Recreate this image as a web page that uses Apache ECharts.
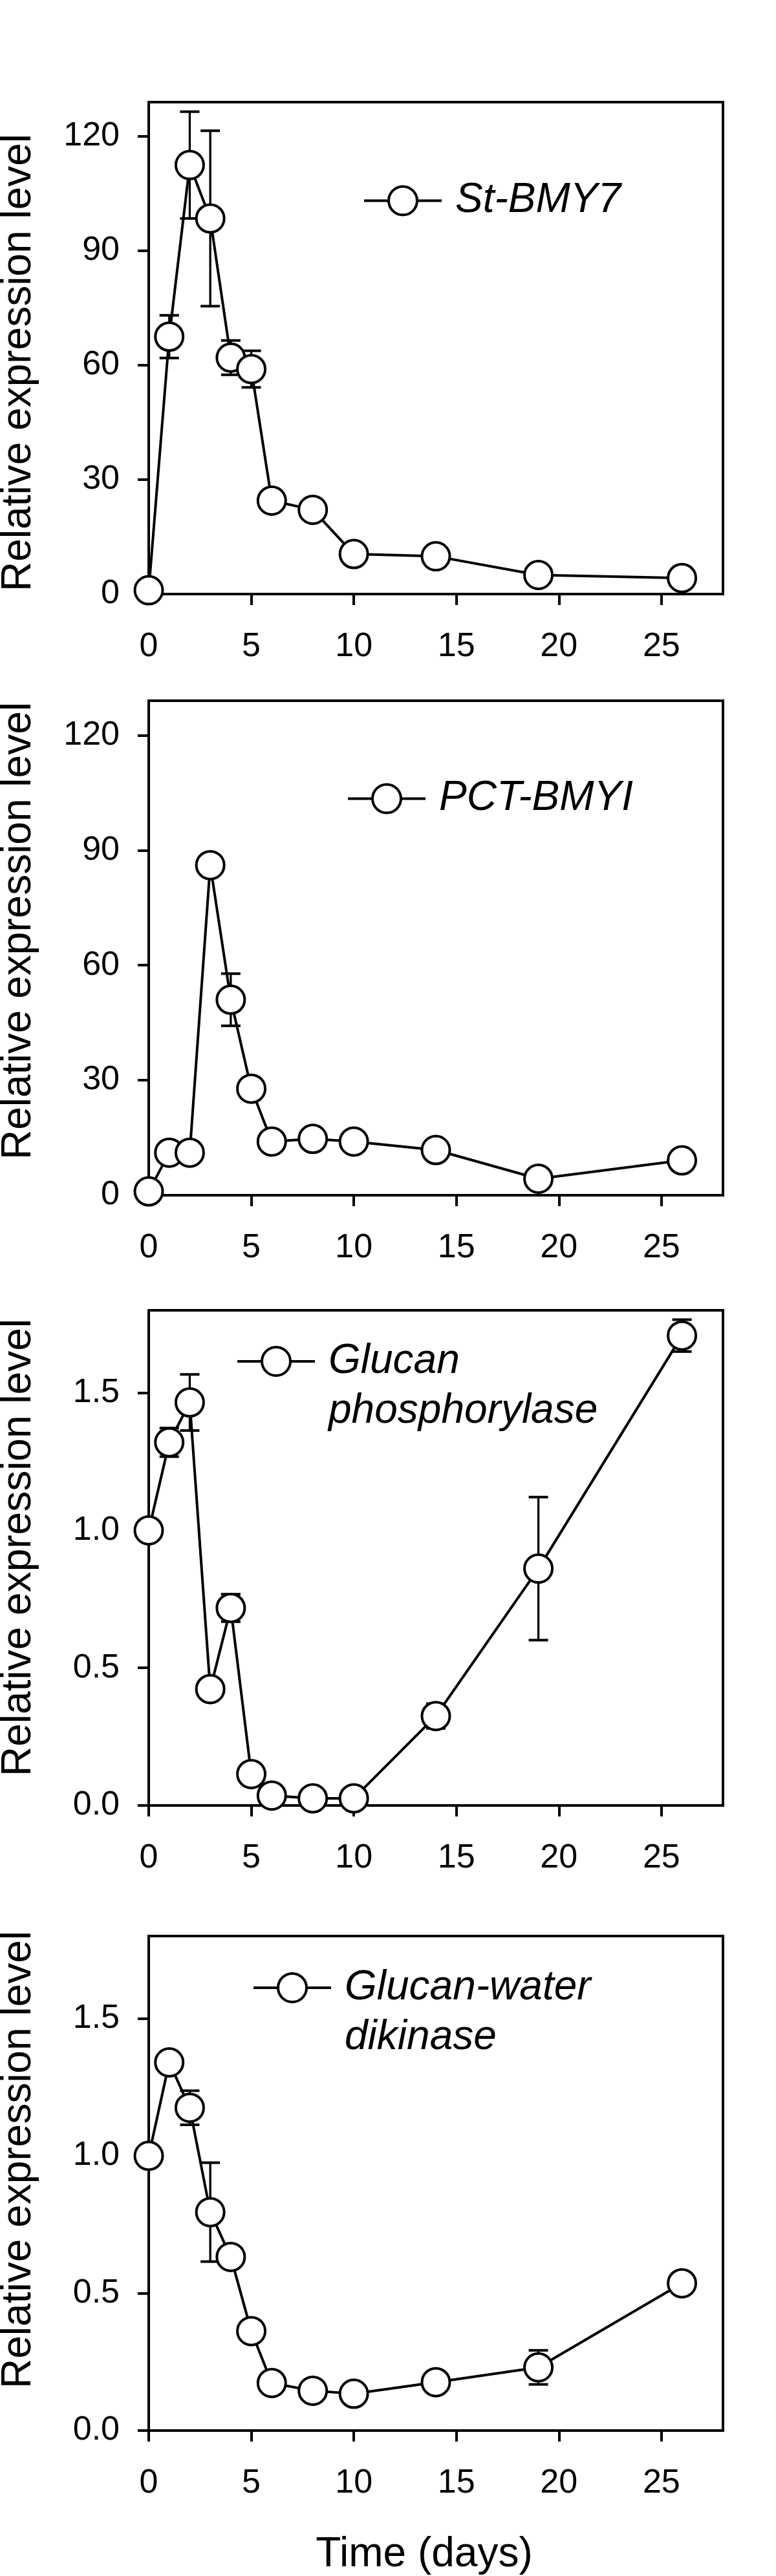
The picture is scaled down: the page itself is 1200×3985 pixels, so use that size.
<!DOCTYPE html>
<html><head><meta charset="utf-8">
<script src="https://cdn.jsdelivr.net/npm/echarts@6/dist/echarts.min.js"></script>
<style>html,body{margin:0;padding:0;background:#fff}#c{width:1200px;height:3985px}</style>
</head><body><div id="c"></div>
<script>
// ---- data ----
const days = [0, 1, 2, 3, 4, 5, 6, 8, 10, 14, 19, 26];
const xTicks = [0, 5, 10, 15, 20, 25];

const stBmy7 = [1, 67.5, 112.5, 98.5, 62, 59, 24.5, 22.1, 10.5, 9.9, 5.0, 4.2];
const stBmy7Err = [0, 5.6, 14, 23, 4.5, 4.8, 0, 0, 0, 0, 0, 0];

const pctBmy1 = [1, 11.1, 11.1, 86.1, 51, 27.8, 14.0, 14.7, 14.0, 11.8, 4.3, 9.1];
const pctBmy1Err = [0, 0, 0, 0, 6.8, 0, 0, 0, 0, 0, 0, 0];

const glucanPhos = [1.0, 1.32, 1.465, 0.423, 0.718, 0.114, 0.036, 0.026, 0.026, 0.325, 0.861, 1.708];
const glucanPhosErr = [0, 0.052, 0.102, 0, 0.05, 0, 0, 0, 0, 0.045, 0.26, 0.058];

const gwd = [1.0, 1.34, 1.175, 0.795, 0.632, 0.362, 0.173, 0.145, 0.134, 0.176, 0.23, 0.536];
const gwdErr = [0, 0, 0.062, 0.18, 0, 0, 0, 0, 0, 0, 0.062, 0];

const yTicksBig = [0, 30, 60, 90, 120];
const yTicksSmall = [0, 0.5, 1.0, 1.5];

const names = ['St-BMY7', 'PCT-BMYI', 'Glucan\nphosphorylase', 'Glucan-water\ndikinase'];
const yTitle = 'Relative expression level';
const xTitle = 'Time (days)';
// ---------------

const FONT = "'Liberation Sans', Arial, sans-serif";
const panels = [
  {vals: stBmy7, errs: stBmy7Err, max: 129, ticks: yTicksBig, dec: 0, grid: {top: 158, height: 761}, leg: {left: 561, cy: 306}, titleY: 561},
  {vals: pctBmy1, errs: pctBmy1Err, max: 129, ticks: yTicksBig, dec: 0, grid: {top: 1084, height: 765}, leg: {left: 536, cy: 1231}, titleY: 1440},
  {vals: glucanPhos, errs: glucanPhosErr, max: 1.8, ticks: yTicksSmall, dec: 1, grid: {top: 2027, height: 766}, leg: {left: 365, cy: 2106}, titleY: 2394},
  {vals: gwd, errs: gwdErr, max: 1.8, ticks: yTicksSmall, dec: 1, grid: {top: 2995, height: 771}, leg: {left: 390, cy: 3075}, titleY: 3341}
];

const grid = [], xAxis = [], yAxis = [], series = [], legend = [], graphic = [];
const LH = 77;
panels.forEach((p, i) => {
  grid.push({left: 230, width: 888, top: p.grid.top, height: p.grid.height, show: true,
    borderColor: '#000', borderWidth: 4, backgroundColor: 'transparent'});
  const axisCommon = {
    axisLine: {show: true, onZero: false, lineStyle: {color: '#000', width: 4}},
    axisTick: {show: true, inside: false, length: 17, lineStyle: {color: '#000', width: 4}},
    splitLine: {show: false}
  };
  xAxis.push(Object.assign({}, axisCommon, {
    gridIndex: i, type: 'value', min: 0, max: 28,
    axisTick: Object.assign({}, axisCommon.axisTick, {customValues: xTicks}),
    axisLabel: {customValues: xTicks, fontSize: 52, color: '#000', fontFamily: FONT, margin: 56},
    name: i === 3 ? xTitle : '',
    nameLocation: 'middle', nameGap: 160,
    nameTextStyle: {fontSize: 64, color: '#000', fontFamily: FONT, padding: [0, 36, 0, 0]}
  }));
  yAxis.push(Object.assign({}, axisCommon, {
    gridIndex: i, type: 'value', min: 0, max: p.max,
    axisTick: Object.assign({}, axisCommon.axisTick, {customValues: p.ticks}),
    axisLabel: {customValues: p.ticks, fontSize: 52, color: '#000', fontFamily: FONT, margin: 45,
      formatter: v => Number(v).toFixed(p.dec)}
  }));
  graphic.push({
    type: 'text', x: 29, y: p.titleY, rotation: Math.PI / 2, silent: true,
    style: {text: yTitle, font: '64px ' + FONT, fill: '#000', textAlign: 'center', textVerticalAlign: 'middle'}
  });
  series.push({
    type: 'custom', xAxisIndex: i, yAxisIndex: i, z: 1, silent: true,
    data: days.map((d, k) => [d, p.vals[k], p.errs[k]]),
    encode: {x: 0, y: 1},
    renderItem: function (params, api) {
      const x = api.value(0), v = api.value(1), e = api.value(2);
      if (!e) return null;
      const t = api.coord([x, v + e]), b = api.coord([x, v - e]);
      const hw = 15;
      return {type: 'group', children: [
        {type: 'line', shape: {x1: t[0], y1: t[1], x2: b[0], y2: b[1]}, style: {stroke: '#000', lineWidth: 3.3}},
        {type: 'line', shape: {x1: t[0] - hw, y1: t[1], x2: t[0] + hw, y2: t[1]}, style: {stroke: '#000', lineWidth: 4}},
        {type: 'line', shape: {x1: b[0] - hw, y1: b[1], x2: b[0] + hw, y2: b[1]}, style: {stroke: '#000', lineWidth: 4}}
      ]};
    }
  });
  series.push({
    type: 'line', name: names[i], xAxisIndex: i, yAxisIndex: i, z: 3,
    data: days.map((d, k) => [d, p.vals[k]]),
    symbol: 'circle', symbolSize: 43, showAllSymbol: true, clip: false,
    lineStyle: {color: '#000', width: 4},
    itemStyle: {color: '#fff', borderColor: '#000', borderWidth: 4, opacity: 1},
    emphasis: {disabled: true}
  });
  const twoLine = names[i].indexOf('\n') >= 0;
  legend.push({
    data: [names[i]], left: p.leg.left,
    top: twoLine ? p.leg.cy - (LH * 3) / 2 : p.leg.cy - 27.5,
    orient: 'horizontal', padding: 0, itemWidth: 120, itemHeight: 55, selectedMode: false,
    formatter: twoLine ? (n => '\n' + n) : (n => n),
    lineStyle: {color: '#000', width: 4},
    itemStyle: {color: '#fff', borderColor: '#000', borderWidth: 4},
    textStyle: {fontSize: 64, fontStyle: 'italic', color: '#000', fontFamily: FONT,
      lineHeight: twoLine ? LH : 54, padding: [0, 0, 0, 16]}
  });
});

const chart = echarts.init(document.getElementById('c'), null, {renderer: 'canvas'});
chart.setOption({animation: false, backgroundColor: '#fff', grid, xAxis, yAxis, series, legend, graphic});
</script>
</body></html>
